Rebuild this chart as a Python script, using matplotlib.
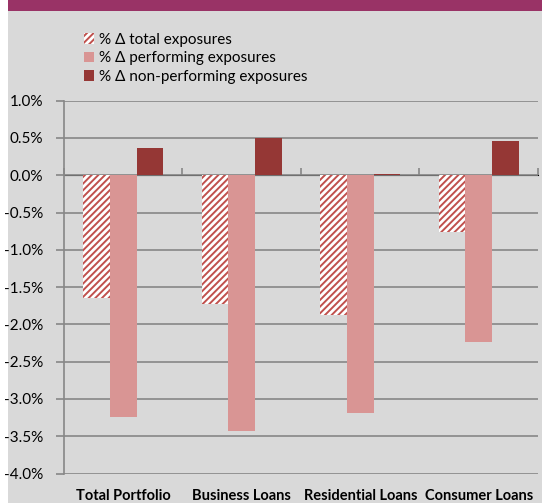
import numpy as np
import matplotlib.pyplot as plt
from matplotlib.patches import Rectangle
from matplotlib.ticker import FuncFormatter

plt.rcParams['font.family'] = ['Lato', 'DejaVu Sans']
plt.rcParams['hatch.linewidth'] = 1.4

categories = ['Total Portfolio', 'Business Loans', 'Residential Loans', 'Consumer Loans']
total_exp = [-1.65, -1.72, -1.87, -0.76]
performing = [-3.24, -3.43, -3.19, -2.24]
non_performing = [0.37, 0.50, 0.02, 0.46]
series_labels = ['% Δ total exposures', '% Δ performing exposures', '% Δ non-performing exposures']

bg = '#D9D9D9'
grid_c = '#878787'
pink = '#D99594'
dark = '#953735'
hatch_c = '#C0504D'

fig = plt.figure(figsize=(5.42, 5.03), dpi=100, facecolor='white')
# gray panel and purple title band
fig.patches.append(Rectangle((8 / 542, 0), 1, 1, transform=fig.transFigure,
                             facecolor=bg, edgecolor='none', zorder=-2))
fig.patches.append(Rectangle((8 / 542, 1 - 11 / 503), 1, 11 / 503, transform=fig.transFigure,
                             facecolor='#993366', edgecolor='none', zorder=-1))

ax = fig.add_axes([64 / 542, 1 - 473.5 / 503, 474 / 542, (473.5 - 100.7) / 503])
ax.set_facecolor('none')

x = np.arange(len(categories)) + 0.5
w = 0.225
b1 = ax.bar(x - w, total_exp, w, facecolor='white', edgecolor=hatch_c, linewidth=0,
            hatch='/////', label=series_labels[0], zorder=3)
b2 = ax.bar(x, performing, w, color=pink, label=series_labels[1], zorder=3)
b3 = ax.bar(x + w, non_performing, w, color=dark, label=series_labels[2], zorder=3)

ax.set_xlim(0, 4)
ax.set_ylim(-4.0, 1.0)
ax.set_yticks(np.arange(-4.0, 1.01, 0.5))
ax.yaxis.set_major_formatter(FuncFormatter(lambda v, p: f'{v:.1f}%'))
ax.yaxis.grid(True, color=grid_c, linewidth=1.2, zorder=0)
ax.set_axisbelow(True)
for s in ['top', 'right', 'bottom']:
    ax.spines[s].set_visible(False)
ax.spines['left'].set_color(grid_c)
ax.spines['left'].set_linewidth(1.2)
ax.tick_params(axis='y', length=6, color=grid_c, width=1.2, labelsize=11, pad=9,
               labelcolor='black')
ax.set_xticks(x)
ax.set_xticklabels(categories, fontweight='bold', fontsize=10.5)
ax.tick_params(axis='x', length=0, pad=11)

# category axis at zero with tick marks between groups
sec = ax.secondary_xaxis(0.8)
sec.set_xticks(np.arange(0, 5))
sec.set_xticklabels([])
sec.tick_params(axis='x', length=5, color=grid_c, width=1.2, direction='out')
sec.spines['bottom'].set_color(grid_c)
sec.spines['bottom'].set_linewidth(1.2)

fig.legend(handles=[b1, b2, b3], loc='upper left', bbox_to_anchor=(76 / 542, 1 - 25 / 503),
           frameon=False, fontsize=11, handlelength=0.7, handleheight=0.7,
           handletextpad=0.3, labelspacing=0.3, borderpad=0)

fig.savefig('out.png', dpi=100, facecolor=fig.get_facecolor())
